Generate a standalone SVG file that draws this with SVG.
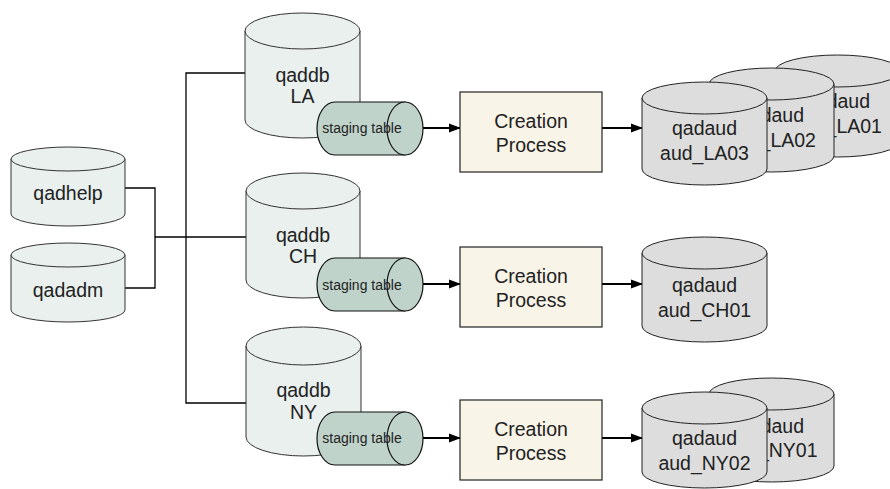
<svg xmlns="http://www.w3.org/2000/svg" width="890" height="489" viewBox="0 0 890 489">
<defs>
<style>
.db{fill:#E9F0EE;stroke:#333;stroke-width:1}
.aud{fill:#DDDDDD;stroke:#222;stroke-width:1}
.stg{fill:#BFD3CB;stroke:#111;stroke-width:1.2}
.proc{fill:#F8F4E8;stroke:#222;stroke-width:1.2}
.t{font-family:"Liberation Sans",Arial,sans-serif;font-size:19.5px;fill:#222;text-anchor:middle}
.ts{font-family:"Liberation Sans",Arial,sans-serif;font-size:14px;fill:#222;text-anchor:middle}
.ln{fill:none;stroke:#000;stroke-width:1.3}
.ar{fill:none;stroke:#000;stroke-width:1.8;marker-end:url(#ah)}
</style>
<marker id="ah" markerWidth="12" markerHeight="10" refX="11" refY="5" orient="auto" markerUnits="userSpaceOnUse">
<path d="M0,0.5 L12,5 L0,9.5 Z" fill="#000"/>
</marker>
</defs>
<rect width="890" height="489" fill="#fff"/>

<g id="connectors">
<polyline class="ln" points="125,188 155,188 155,288 125,288"/>
<line class="ln" x1="155" y1="237" x2="246" y2="237"/>
<polyline class="ln" points="245,73 186,73 186,403 246,403"/>
<line class="ar" x1="423" y1="128" x2="460" y2="128"/>
<line class="ar" x1="602" y1="128" x2="642" y2="128"/>
<line class="ar" x1="423" y1="284" x2="460" y2="284"/>
<line class="ar" x1="602" y1="284" x2="642" y2="284"/>
<line class="ar" x1="423" y1="438" x2="460" y2="438"/>
<line class="ar" x1="602" y1="438" x2="642" y2="438"/>
</g>

<g id="qadhelp">
<path class="db" d="M11,159 V214 A57,12 0 0 0 125,214 V159 Z"/>
<ellipse class="db" cx="68" cy="159" rx="57" ry="12"/>
<text class="t" x="68" y="200">qadhelp</text>
</g>
<g id="qadadm">
<path class="db" d="M11,255 V310 A57,12 0 0 0 125,310 V255 Z"/>
<ellipse class="db" cx="68" cy="255" rx="57" ry="12"/>
<text class="t" x="68" y="297">qadadm</text>
</g>

<g id="qaddb-LA">
<path class="db" d="M245,31 V120 A57.5,18 0 0 0 360,120 V31 Z"/>
<ellipse class="db" cx="302.5" cy="31" rx="57.5" ry="18"/>
<text class="t" x="302.5" y="82">qaddb</text>
<text class="t" x="302.5" y="103">LA</text>
</g>
<g id="staging-LA">
<path class="stg" d="M335,102 H405 V155 H335 A18,26.5 0 0 1 335,102 Z"/>
<ellipse class="stg" cx="405" cy="128.5" rx="18" ry="26.5"/>
<text class="ts" x="362" y="133">staging table</text>
</g>
<g id="process-LA">
<rect class="proc" x="460" y="92" width="142" height="80"/>
<text class="t" x="531" y="128">Creation</text>
<text class="t" x="531" y="152">Process</text>
</g>
<g id="aud_LA01">
<path class="aud" d="M775,71 V141 A62.5,16 0 0 0 900,141 V71 Z"/>
<ellipse class="aud" cx="837.5" cy="71" rx="62.5" ry="16"/>
<text class="t" x="837.5" y="108">qadaud</text>
<text class="t" x="837.5" y="133">aud_LA01</text>
</g>
<g id="aud_LA02">
<path class="aud" d="M709,84 V156 A62.5,16 0 0 0 834,156 V84 Z"/>
<ellipse class="aud" cx="771.5" cy="84" rx="62.5" ry="16"/>
<text class="t" x="771.5" y="122">qadaud</text>
<text class="t" x="771.5" y="147">aud_LA02</text>
</g>
<g id="aud_LA03">
<path class="aud" d="M642,98 V169 A62.5,16 0 0 0 767,169 V98 Z"/>
<ellipse class="aud" cx="704.5" cy="98" rx="62.5" ry="16"/>
<text class="t" x="704.5" y="135">qadaud</text>
<text class="t" x="704.5" y="160">aud_LA03</text>
</g>

<g id="qaddb-CH">
<path class="db" d="M246,191 V280 A57,18 0 0 0 360,280 V191 Z"/>
<ellipse class="db" cx="303" cy="191" rx="57" ry="18"/>
<text class="t" x="303" y="242">qaddb</text>
<text class="t" x="303" y="263">CH</text>
</g>
<g id="staging-CH">
<path class="stg" d="M335,258 H405 V311 H335 A18,26.5 0 0 1 335,258 Z"/>
<ellipse class="stg" cx="405" cy="284.5" rx="18" ry="26.5"/>
<text class="ts" x="362" y="290">staging table</text>
</g>
<g id="process-CH">
<rect class="proc" x="460" y="247" width="142" height="80"/>
<text class="t" x="531" y="283">Creation</text>
<text class="t" x="531" y="307">Process</text>
</g>
<g id="aud_CH01">
<path class="aud" d="M642,253 V326 A62.5,16 0 0 0 767,326 V253 Z"/>
<ellipse class="aud" cx="704.5" cy="253" rx="62.5" ry="16"/>
<text class="t" x="704.5" y="292">qadaud</text>
<text class="t" x="704.5" y="317">aud_CH01</text>
</g>

<g id="qaddb-NY">
<path class="db" d="M246,346 V437 A57.5,19 0 0 0 361,437 V346 Z"/>
<ellipse class="db" cx="303.5" cy="346" rx="57.5" ry="19"/>
<text class="t" x="303.5" y="397">qaddb</text>
<text class="t" x="303.5" y="419">NY</text>
</g>
<g id="staging-NY">
<path class="stg" d="M335,412 H405 V465 H335 A18,26.5 0 0 1 335,412 Z"/>
<ellipse class="stg" cx="405" cy="438.5" rx="18" ry="26.5"/>
<text class="ts" x="362" y="443">staging table</text>
</g>
<g id="process-NY">
<rect class="proc" x="460" y="400" width="142" height="80"/>
<text class="t" x="531" y="436">Creation</text>
<text class="t" x="531" y="460">Process</text>
</g>
<g id="aud_NY01">
<path class="aud" d="M709,394 V466 A62.5,16 0 0 0 834,466 V394 Z"/>
<ellipse class="aud" cx="771.5" cy="394" rx="62.5" ry="16"/>
<text class="t" x="771.5" y="433">qadaud</text>
<text class="t" x="771.5" y="457">aud_NY01</text>
</g>
<g id="aud_NY02">
<path class="aud" d="M642,408 V472 A62.5,16 0 0 0 767,472 V408 Z"/>
<ellipse class="aud" cx="704.5" cy="408" rx="62.5" ry="16"/>
<text class="t" x="704.5" y="445">qadaud</text>
<text class="t" x="704.5" y="470">aud_NY02</text>
</g>
</svg>
